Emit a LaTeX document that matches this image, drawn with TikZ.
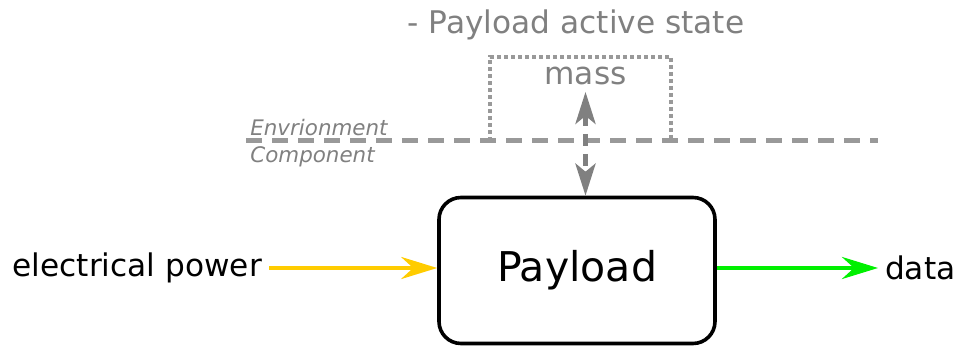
\documentclass[tikz,border=0pt]{standalone}
\usepackage{fontspec}
\setmainfont{DejaVu Sans}
\usetikzlibrary{arrows.meta,positioning}
\definecolor{envgray}{RGB}{153,153,153}
\definecolor{txtgray}{RGB}{128,128,128}
\definecolor{powyellow}{RGB}{255,204,0}
\definecolor{datagreen}{RGB}{0,240,0}

\begin{document}
\begin{tikzpicture}[x=0.5pt,y=-0.5pt,
    flow/.style={line width=2.2pt,-{Stealth[length=18pt,width=11pt,inset=6pt]}},
    txt/.style={font=\fontsize{15.6}{18}\selectfont}]
  \useasboundingbox (0,0) rectangle (959,351);
  % environment side
  \node[txt,txtgray,anchor=base] (title) at (576,34) {- Payload active state};
  \draw[envgray,line width=1.8pt,dash pattern=on 1.8pt off 1.7pt] (490,141) -- (490,57) -- (671,57) -- (671,141);
  \node[txt,txtgray,anchor=base,inner sep=3pt] (mass) at (585.5,85) {mass};
  \draw[envgray,line width=2.5pt,dash pattern=on 8pt off 5pt] (246,141) -- (878,141);
  \node[txtgray,font=\fontsize{10.7}{12}\selectfont\itshape,anchor=base west,inner sep=0pt] (env) at (250,136) {Envrionment};
  \node[txtgray,font=\fontsize{10.7}{12}\selectfont\itshape,anchor=base west,inner sep=0pt] (comp) at (250,163) {Component};
  % component side
  \node[draw,line width=1.8pt,rounded corners=11pt,minimum width=138pt,minimum height=73pt,
        font=\fontsize{20.5}{24}\selectfont] (payload) at (577,270.5) {Payload};
  \node[txt,anchor=east] (power) at (269,268) {electrical power};
  \node[txt,anchor=west] (data) at (878,268) {data};
  \draw[flow,powyellow] (power.east) -- (power.east -| payload.west);
  \draw[flow,datagreen] (data.west -| payload.east) -- (data.west);
  \draw[txtgray,line width=2.5pt,dash pattern=on 6pt off 4pt,
        {Stealth[length=16pt,width=10pt,inset=4pt]}-{Stealth[length=16pt,width=10pt,inset=4pt]}]
        (mass.south) -- (mass.south |- payload.north);
\end{tikzpicture}
\end{document}
